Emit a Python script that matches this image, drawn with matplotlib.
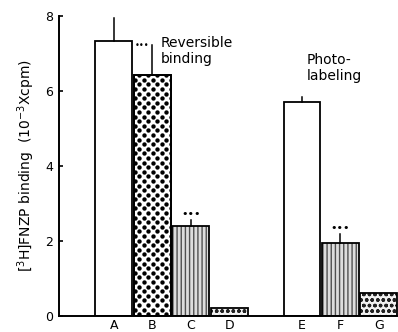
import numpy as np
import matplotlib
matplotlib.use("Agg")
import matplotlib.pyplot as plt

# ---- data ----
categories = ["A", "B", "C", "D", "E", "F", "G"]
values = [7.33, 6.43, 2.40, 0.21, 5.71, 1.95, 0.61]
errors = [0.62, 0.80, 0.16, 0.0, 0.13, 0.25, 0.0]
stars = ["", "", "•••", "", "", "•••", ""]
group_labels = ["Reversible\nbinding", "Photo-\nlabeling"]
yticks = [0, 2, 4, 6, 8]

plt.rcParams['font.family'] = ['DejaVu Sans']
fig = plt.figure(figsize=(3.98, 3.32), dpi=100)
ax = fig.add_axes([59/398, 16/332, 339/398, 300/332])

# positions: group 1 then a gap then group 2
xpos = np.array([0, 1, 2, 3, 4.9, 5.9, 6.9])
w = 0.96

styles = ["white", "dots", "lines", "speckle", "white", "lines", "speckle"]

for x, v, s in zip(xpos, values, styles):
    if s == "white":
        ax.bar(x, v, w, facecolor="white", edgecolor="black", linewidth=1.3, zorder=2)
    elif s == "lines":
        ax.bar(x, v, w, facecolor="#dddddd", edgecolor="#505050", hatch="||||", linewidth=0, zorder=2)
        ax.bar(x, v, w, facecolor="none", edgecolor="black", linewidth=1.3, zorder=3)
    elif s == "speckle":
        ax.bar(x, v, w, facecolor="#f2f2f2", edgecolor="#222222", hatch="ooo...", linewidth=0, zorder=2)
        ax.bar(x, v, w, facecolor="none", edgecolor="black", linewidth=1.3, zorder=3)
    elif s == "dots":
        b = ax.bar(x, v, w, facecolor="white", edgecolor="black", linewidth=1.3, zorder=2)[0]
        # polka-dot texture clipped to the bar
        dx, dy = 0.235, 0.245
        pts = []
        for j, yy in enumerate(np.arange(0.05, v + 0.3, dy / 2)):
            off = 0 if j % 2 == 0 else dx / 2
            for xx in np.arange(x - w / 2 - 0.1 + off, x + w / 2 + 0.2, dx):
                pts.append((xx, yy))
        pts = np.array(pts)
        sc = ax.scatter(pts[:, 0], pts[:, 1], s=10, color="black", linewidths=0, zorder=3)
        sc.set_clip_path(b)
        ax.bar(x, v, w, facecolor="none", edgecolor="black", linewidth=1.3, zorder=4)

# error bars (upper only, no caps)
for x, v, e in zip(xpos, values, errors):
    if e > 0:
        ax.plot([x, x], [v, v + e], color="black", linewidth=1.1, zorder=5)

# significance stars
for x, v, e, st in zip(xpos, values, errors, stars):
    if st:
        ax.text(x, v + e + 0.02, st, ha="center", va="bottom", fontsize=8, zorder=5)

# group annotations
ax.text(0.55, 7.1, "•••", ha="left", va="bottom", fontsize=6)
ax.text(1.22, 7.07, group_labels[0], ha="left", va="center", fontsize=10, linespacing=1.15)
ax.text(5.03, 6.62, group_labels[1], ha="left", va="center", fontsize=10, linespacing=1.15)

ax.set_xlim(-1.43, 7.4)
ax.set_ylim(0, 8)
ax.set_xticks(xpos)
ax.set_xticklabels(categories, fontsize=9)
ax.tick_params(axis="x", length=0, pad=2)
ax.set_yticks(yticks)
ax.set_yticklabels([str(t) for t in yticks], fontsize=9)
ax.tick_params(axis="y", direction="in", length=3, width=1.2, pad=4)
for sp in ["top", "right"]:
    ax.spines[sp].set_visible(False)
for sp in ["left", "bottom"]:
    ax.spines[sp].set_linewidth(1.4)

ax.set_ylabel(r"$[^{3}$H$]$FNZP binding  (10$^{-3}$Xcpm)", fontsize=10, labelpad=6)

fig.savefig("out.png", dpi=100)
